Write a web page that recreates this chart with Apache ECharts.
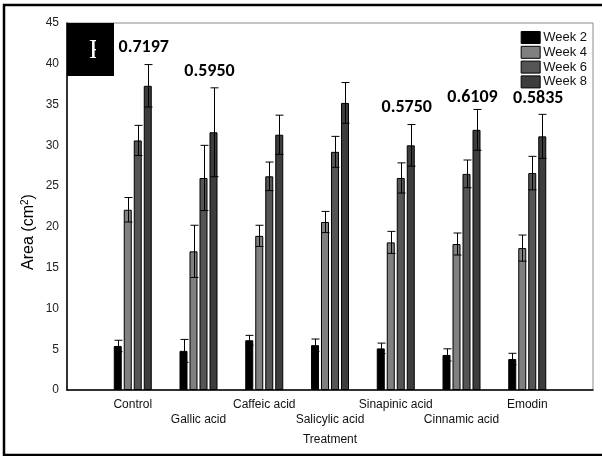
<!DOCTYPE html>
<html>
<head>
<meta charset="utf-8">
<script src="https://cdn.jsdelivr.net/npm/echarts@6/dist/echarts.min.js"></script>
<style>
html,body{margin:0;padding:0;background:#fff;}
#chart{width:602px;height:456px;}
</style>
</head>
<body>
<div id="chart"></div>
<script>
// ---- data ----
var categories = ["Control", "Gallic acid", "Caffeic acid", "Salicylic acid", "Sinapinic acid", "Cinnamic acid", "Emodin"];
var weeks = ["Week 2", "Week 4", "Week 6", "Week 8"];
var week2 = [5.4, 4.8, 6.1, 5.5, 5.1, 4.3, 3.8];
var week4 = [22.1, 17.0, 18.9, 20.6, 18.1, 17.9, 17.4];
var week6 = [30.6, 26.0, 26.2, 29.2, 26.0, 26.5, 26.6];
var week8 = [37.3, 31.6, 31.3, 35.2, 30.0, 31.9, 31.1];
var week2Err = [0.7, 1.4, 0.6, 0.75, 0.65, 0.75, 0.7];
var week4Err = [1.5, 3.2, 1.3, 1.3, 1.35, 1.35, 1.6];
var week6Err = [1.85, 4.0, 1.75, 1.9, 1.85, 1.7, 2.05];
var week8Err = [2.6, 5.45, 2.4, 2.5, 2.55, 2.5, 2.7];
var annotationCats = ["Control", "Gallic acid", "Sinapinic acid", "Cinnamic acid", "Emodin"];
var annotationText = ["0.7197", "0.5950", "0.5750", "0.6109", "0.5835"];
var annotationY = [42.0, 39.1, 34.7, 35.9, 35.7];
var yTicks = [0, 5, 10, 15, 20, 25, 30, 35, 40, 45];

// ---- build ----
var axisCats = [""].concat(categories).concat([""]);
var colors = ["#000000", "#808080", "#555555", "#3d3d3d"];
var values = [week2, week4, week6, week8];
var errs = [week2Err, week4Err, week6Err, week8Err];
var BAR_W = 8, BAR_GAP = 2;

function pad(arr) { return [null].concat(arr).concat([null]); }

var series = [];
weeks.forEach(function (w, i) {
  series.push({
    name: w,
    type: 'bar',
    barWidth: BAR_W,
    barGap: (BAR_GAP / BAR_W * 100) + '%',
    data: pad(values[i]),
    itemStyle: { color: colors[i], borderColor: '#000', borderWidth: 1 },
    z: 2
  });
});

// error bars
var errData = [];
weeks.forEach(function (w, i) {
  values[i].forEach(function (v, j) {
    errData.push([j + 1, v, errs[i][j], i]);
  });
});
series.push({
  type: 'custom',
  name: 'err',
  z: 5,
  silent: true,
  data: errData,
  renderItem: function (params, api) {
    var x = api.value(0), m = api.value(1), e = api.value(2), k = api.value(3);
    var c = api.coord([x, m]);
    var top = api.coord([x, m + e]);
    var bot = api.coord([x, Math.max(0, m - e)]);
    var offset = (k - 1.5) * (BAR_W + BAR_GAP);
    var cx = Math.round(c[0] + offset) + 0.5;
    var half = 4;
    var st = { stroke: '#000', lineWidth: 1 };
    return {
      type: 'group',
      children: [
        { type: 'line', shape: { x1: cx, y1: top[1], x2: cx, y2: bot[1] }, style: st },
        { type: 'line', shape: { x1: cx - half, y1: top[1], x2: cx + half, y2: top[1] }, style: st },
        { type: 'line', shape: { x1: cx - half, y1: bot[1], x2: cx + half, y2: bot[1] }, style: st }
      ]
    };
  }
});

// annotations
series.push({
  type: 'custom',
  name: 'ann',
  z: 6,
  silent: true,
  data: annotationCats.map(function (c, i) { return [categories.indexOf(c) + 1, annotationY[i], i]; }),
  renderItem: function (params, api) {
    var p = api.coord([api.value(0), api.value(1)]);
    var idx = api.value(2);
    return {
      type: 'text',
      x: p[0] + 11, y: p[1],
      style: {
        text: annotationText[idx],
        fontFamily: 'Carlito, "Liberation Sans", Arial, sans-serif',
        fontWeight: 'bold', fontSize: 18, fill: '#000',
        align: 'center', verticalAlign: 'middle'
      }
    };
  }
});

var chart = echarts.init(document.getElementById('chart'), null, { renderer: 'canvas' });
chart.setOption({
  animation: false,
  backgroundColor: '#fff',
  grid: { left: 67, right: 9, top: 23, bottom: 66, show: true, borderColor: '#8a8a8a', borderWidth: 1, backgroundColor: 'transparent' },
  legend: {
    data: weeks,
    orient: 'vertical',
    right: 10, top: 26,
    itemWidth: 19, itemHeight: 12, itemGap: 1.8,
    icon: 'rect',
    textStyle: { fontFamily: '"Liberation Sans", Arial, sans-serif', fontSize: 13, color: '#111', padding: [0, 0, 0, -2] },
    itemStyle: { borderColor: '#000', borderWidth: 1 }
  },
  xAxis: {
    type: 'category',
    data: axisCats,
    boundaryGap: false,
    axisLine: { lineStyle: { color: '#000', width: 1.5 } },
    axisTick: { show: false },
    splitLine: { show: false },
    axisLabel: {
      interval: 0,
      margin: 7,
      fontFamily: '"Liberation Sans", Arial, sans-serif',
      fontSize: 12, color: '#111', lineHeight: 15,
      formatter: function (v, i) { return (i % 2 === 0 && v) ? '\n' + v : v; }
    },
    name: 'Treatment',
    nameLocation: 'middle',
    nameGap: 44,
    nameTextStyle: { fontFamily: '"Liberation Sans", Arial, sans-serif', fontSize: 12, color: '#111' }
  },
  yAxis: {
    type: 'value',
    min: yTicks[0], max: yTicks[yTicks.length - 1], interval: yTicks[1] - yTicks[0],
    axisLine: { show: true, lineStyle: { color: '#000', width: 1.5 } },
    axisTick: { show: false },
    splitLine: { show: false },
    axisLabel: { margin: 8, fontFamily: '"Liberation Sans", Arial, sans-serif', fontSize: 12, color: '#222' }
  },
  graphic: [
    { type: 'rect', shape: { x: 4, y: 5, width: 610, height: 450 }, style: { fill: 'none', stroke: '#000', lineWidth: 2.5 }, z: 100 },
    { type: 'rect', shape: { x: 67, y: 23, width: 47, height: 53 }, style: { fill: '#000' }, z: 100 },
    { type: 'text', x: 89, y: 51, style: { text: 'F', fontFamily: '"Liberation Serif", "DejaVu Serif", serif', fontSize: 27, fill: '#fff', verticalAlign: 'middle' }, z: 101 },
    { type: 'rect', shape: { x: 96, y: 30, width: 18, height: 40 }, style: { fill: '#000' }, z: 102 },
    { type: 'text', x: 29, y: 232, rotation: Math.PI / 2,
      style: {
        text: '{a|Area (cm}{s|2}{a|)}',
        align: 'center', verticalAlign: 'middle',
        rich: {
          a: { fontFamily: '"Liberation Sans", Arial, sans-serif', fontSize: 16, fill: '#000', lineHeight: 18 },
          s: { fontFamily: '"Liberation Sans", Arial, sans-serif', fontSize: 10, fill: '#000', verticalAlign: 'top', lineHeight: 18 }
        }
      }, z: 100 }
  ],
  series: series
});
</script>
</body>
</html>
